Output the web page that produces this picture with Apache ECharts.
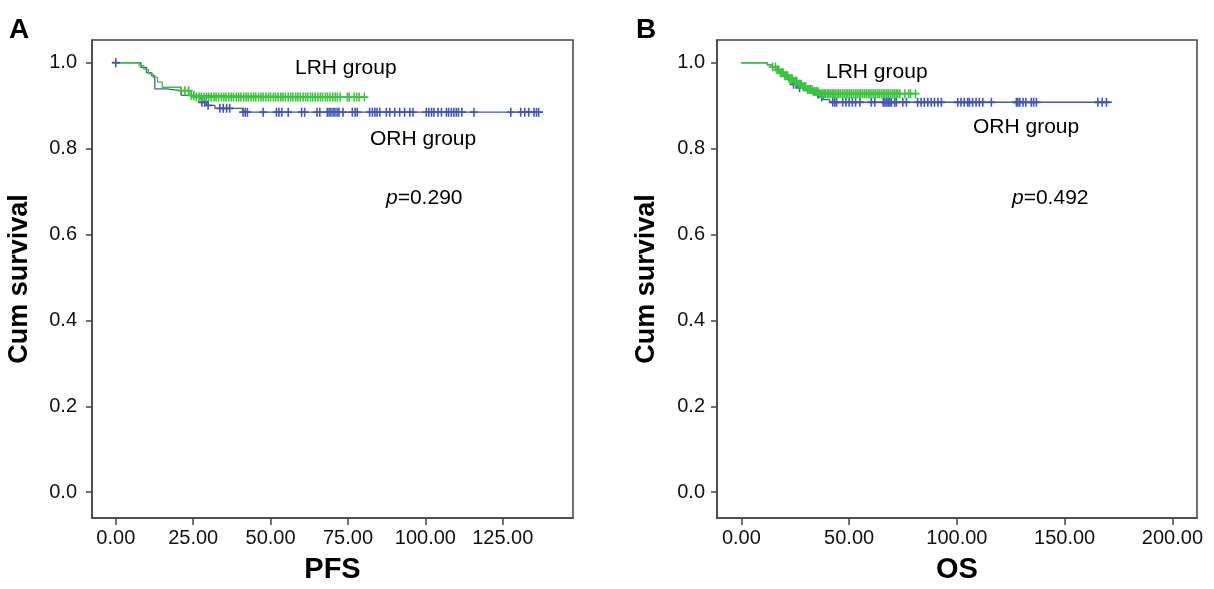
<!DOCTYPE html>
<html><head><meta charset="utf-8">
<script src="https://cdn.jsdelivr.net/npm/echarts@6/dist/echarts.min.js"></script>
<style>html,body{margin:0;padding:0;background:#fff}#c{width:1214px;height:589px}</style>
</head><body><div id="c"></div>
<script>
// ---------- Data ----------
const pfsTicks = [0, 25, 50, 75, 100, 125];
const osTicks = [0, 50, 100, 150, 200];
const survTicks = [0, 0.2, 0.4, 0.6, 0.8, 1.0];

// Panel A: PFS Kaplan-Meier steps
const pfsLrhTime = [0, 7.5, 9, 10.5, 12, 13.5, 15, 21, 24, 26, 81];
const pfsLrhSurv = [1, 0.993, 0.985, 0.975, 0.966, 0.955, 0.943, 0.935, 0.924, 0.92, 0.92];
const pfsOrhTime = [0, 8.1, 9.9, 11.5, 12.6, 16.4, 21.2, 23.4, 26.6, 27.7, 29.3, 32, 41, 138];
const pfsOrhSurv = [1, 0.989, 0.977, 0.97, 0.939, 0.935, 0.924, 0.92, 0.916, 0.908, 0.901, 0.894, 0.885, 0.885];
const pfsLrhCensor = [21.0, 22.3, 23.5, 24.4, 25.2, 26.0, 26.9, 27.6, 28.5, 29.3, 30.0, 30.8, 31.7, 32.4, 33.2, 34.1, 34.9, 35.6, 36.5, 37.3, 38.0, 38.9, 39.7, 40.4, 41.3, 42.1, 42.8, 43.7, 44.5, 45.2, 46.1, 46.9, 47.6, 48.5, 49.3, 50.0, 50.9, 51.6, 52.4, 53.3, 54.0, 54.8, 55.7, 56.5, 57.2, 58.1, 58.8, 59.6, 60.5, 61.3, 62.0, 62.9, 63.6, 64.4, 65.3, 66.1, 66.8, 67.7, 68.4, 69.2, 70.1, 70.9, 71.6, 72.5, 74.8, 75.4, 77.0, 77.8, 78.6, 80.3];
const pfsOrhCensor = [0, 27.8, 28.7, 29.8, 33.6, 34.7, 35.8, 36.8, 41.1, 41.8, 42.5, 47.6, 51.9, 52.7, 53.6, 55.7, 60.0, 61.0, 65.0, 65.9, 68.3, 68.9, 69.5, 70.2, 70.8, 71.5, 72.1, 73.4, 76.4, 77.3, 78.0, 82.0, 82.9, 83.7, 84.4, 85.3, 87.4, 88.5, 90.1, 91.7, 93.3, 95.0, 96.0, 100.3, 101.1, 102.0, 102.8, 104.1, 105.2, 106.8, 107.5, 108.4, 109.2, 110.0, 110.7, 111.8, 115.7, 127.6, 130.8, 132.1, 133.4, 135.1, 135.9, 136.6];

// Panel B: OS Kaplan-Meier steps
const osLrhTime = [0, 12, 14, 16, 18, 20, 22, 24, 26, 28, 30, 33, 36, 81];
const osLrhSurv = [1, 0.995, 0.99, 0.984, 0.977, 0.97, 0.963, 0.957, 0.95, 0.944, 0.938, 0.933, 0.928, 0.928];
const osOrhTime = [0, 12, 14, 16, 18, 20, 22, 24, 26, 29, 33, 36, 38, 41, 172];
const osOrhSurv = [1, 0.995, 0.99, 0.982, 0.975, 0.967, 0.958, 0.95, 0.942, 0.935, 0.927, 0.92, 0.914, 0.908, 0.908];
const osLrhCensor = [14.5, 15.8, 16.6, 17.3, 18.1, 18.8, 19.4, 20.2, 20.9, 21.5, 22.3, 23.0, 23.6, 24.4, 25.1, 25.7, 26.5, 27.2, 27.8, 28.6, 29.3, 29.9, 30.7, 31.4, 32.0, 32.8, 33.5, 34.1, 34.9, 35.6, 36.3, 37.0, 37.8, 38.5, 39.1, 39.9, 40.6, 41.3, 42.1, 42.8, 43.5, 44.4, 45.2, 46.0, 46.9, 47.7, 48.6, 49.4, 50.3, 51.1, 52.0, 52.9, 53.7, 54.6, 55.4, 56.3, 57.2, 58.0, 58.9, 59.7, 60.6, 61.5, 62.3, 63.2, 64.0, 64.9, 65.8, 66.6, 67.5, 68.3, 69.2, 70.1, 70.9, 71.8, 72.6, 73.5, 75.8, 77.6, 78.5, 80.8];
const osOrhCensor = [24.2, 25.5, 27.0, 35.5, 37.3, 42.4, 43.3, 44.2, 47.0, 48.5, 50.0, 51.5, 53.0, 55.0, 60.3, 61.9, 65.8, 66.6, 67.4, 68.1, 68.9, 69.6, 71.1, 71.9, 74.9, 76.6, 81.8, 83.4, 84.9, 86.5, 88.1, 89.6, 91.2, 92.8, 100.4, 101.9, 103.4, 105.0, 105.8, 107.3, 108.9, 110.4, 112.0, 116.0, 127.6, 128.3, 129.2, 130.7, 132.0, 134.5, 135.6, 136.9, 165.4, 167.4, 169.4];

// ---------- Helpers ----------
const BLUE = '#4455b8', GREEN = '#3cc43c';
const FONT = 'Liberation Sans, Arial, sans-serif';
const CROSS = 'path://M4,0H6V4H10V6H6V10H4V6H0V4H4Z';
function pairs(t, s) { return t.map((v, i) => [v, s[i]]); }
function survAt(t, s, x) { let v = s[0]; for (let i = 0; i < t.length; i++) { if (t[i] <= x) v = s[i]; } return v; }
function censorPts(ct, t, s) { return ct.map(x => [x, survAt(t, s, x)]); }

function stepSeries(ax, data, color) {
  return { type: 'line', xAxisIndex: ax, yAxisIndex: ax, step: 'end', data: data, showSymbol: false,
    lineStyle: { color: color, width: 1.3 }, silent: true, z: 2 };
}
function censorSeries(ax, data, color) {
  return { type: 'scatter', xAxisIndex: ax, yAxisIndex: ax, data: data, symbol: CROSS, symbolSize: [8, 9],
    itemStyle: { color: color, opacity: 1 }, silent: true, z: 3 };
}
function xAxis(gi, min, max, ticks, name) {
  return { type: 'value', gridIndex: gi, min: min, max: max, name: name, nameLocation: 'middle', nameGap: 37,
    nameTextStyle: { fontFamily: FONT, fontSize: 29, fontWeight: 'bold', color: '#000' },
    axisLine: { show: true, onZero: false, lineStyle: { color: '#444', width: 1.5 } },
    axisTick: { show: true, length: 7, customValues: ticks, lineStyle: { color: '#444', width: 1.5 } },
    axisLabel: { customValues: ticks, formatter: v => v.toFixed(2), fontFamily: FONT, fontSize: 20, color: '#111', margin: 10 },
    splitLine: { show: false } };
}
function yAxis(gi, gap, margin) {
  return { type: 'value', gridIndex: gi, min: -0.06, max: 1.053, name: 'Cum survival', nameLocation: 'middle', nameGap: gap,
    nameTextStyle: { fontFamily: FONT, fontSize: 27, fontWeight: 'bold', color: '#000' },
    axisLine: { show: true, onZero: false, lineStyle: { color: '#444', width: 1.5 } },
    axisTick: { show: true, length: 6, customValues: survTicks, lineStyle: { color: '#444', width: 1.5 } },
    axisLabel: { customValues: survTicks, formatter: v => v.toFixed(1), fontFamily: FONT, fontSize: 20, color: '#111', margin: margin },
    splitLine: { show: false } };
}
function txt(x, y, str, size, weight) {
  return { type: 'text', left: x, top: y, style: { text: str, fontFamily: FONT, fontSize: size, fontWeight: weight || 'normal', fill: '#000' } };
}
function richTxt(x, y, pval) {
  return { type: 'text', left: x, top: y, style: { text: '{i|p}=' + pval, fontFamily: FONT, fontSize: 21, fill: '#000',
    rich: { i: { fontStyle: 'italic', fontFamily: FONT, fontSize: 21 } } } };
}

const chart = echarts.init(document.getElementById('c'), null, { renderer: 'canvas' });
chart.setOption({
  animation: false,
  backgroundColor: '#fff',
  grid: [
    { left: 92, top: 40, width: 481, height: 482, show: true, borderColor: '#444', borderWidth: 1.5, backgroundColor: 'transparent' },
    { left: 717, top: 40, width: 480, height: 482, show: true, borderColor: '#444', borderWidth: 1.5, backgroundColor: 'transparent' }
  ],
  xAxis: [xAxis(0, -7.7, 147.7, pfsTicks, 'PFS'), xAxis(1, -11.3, 211.4, osTicks, 'OS')],
  yAxis: [yAxis(0, 59, 15), yAxis(1, 57, 12)],
  series: [
    stepSeries(0, pairs(pfsOrhTime, pfsOrhSurv), BLUE),
    stepSeries(0, pairs(pfsLrhTime, pfsLrhSurv), GREEN),
    censorSeries(0, censorPts(pfsOrhCensor, pfsOrhTime, pfsOrhSurv), BLUE),
    censorSeries(0, censorPts(pfsLrhCensor, pfsLrhTime, pfsLrhSurv), GREEN),
    stepSeries(1, pairs(osOrhTime, osOrhSurv), BLUE),
    stepSeries(1, pairs(osLrhTime, osLrhSurv), GREEN),
    censorSeries(1, censorPts(osOrhCensor, osOrhTime, osOrhSurv), BLUE),
    censorSeries(1, censorPts(osLrhCensor, osLrhTime, osLrhSurv), GREEN)
  ],
  graphic: [
    txt(9, 16, 'A', 28, 'bold'),
    txt(636, 16, 'B', 28, 'bold'),
    txt(295, 58, 'LRH group', 21),
    txt(370, 129, 'ORH group', 21),
    richTxt(386, 188, '0.290'),
    txt(826, 62, 'LRH group', 21),
    txt(973, 117, 'ORH group', 21),
    richTxt(1012, 188, '0.492')
  ]
});
</script></body></html>
